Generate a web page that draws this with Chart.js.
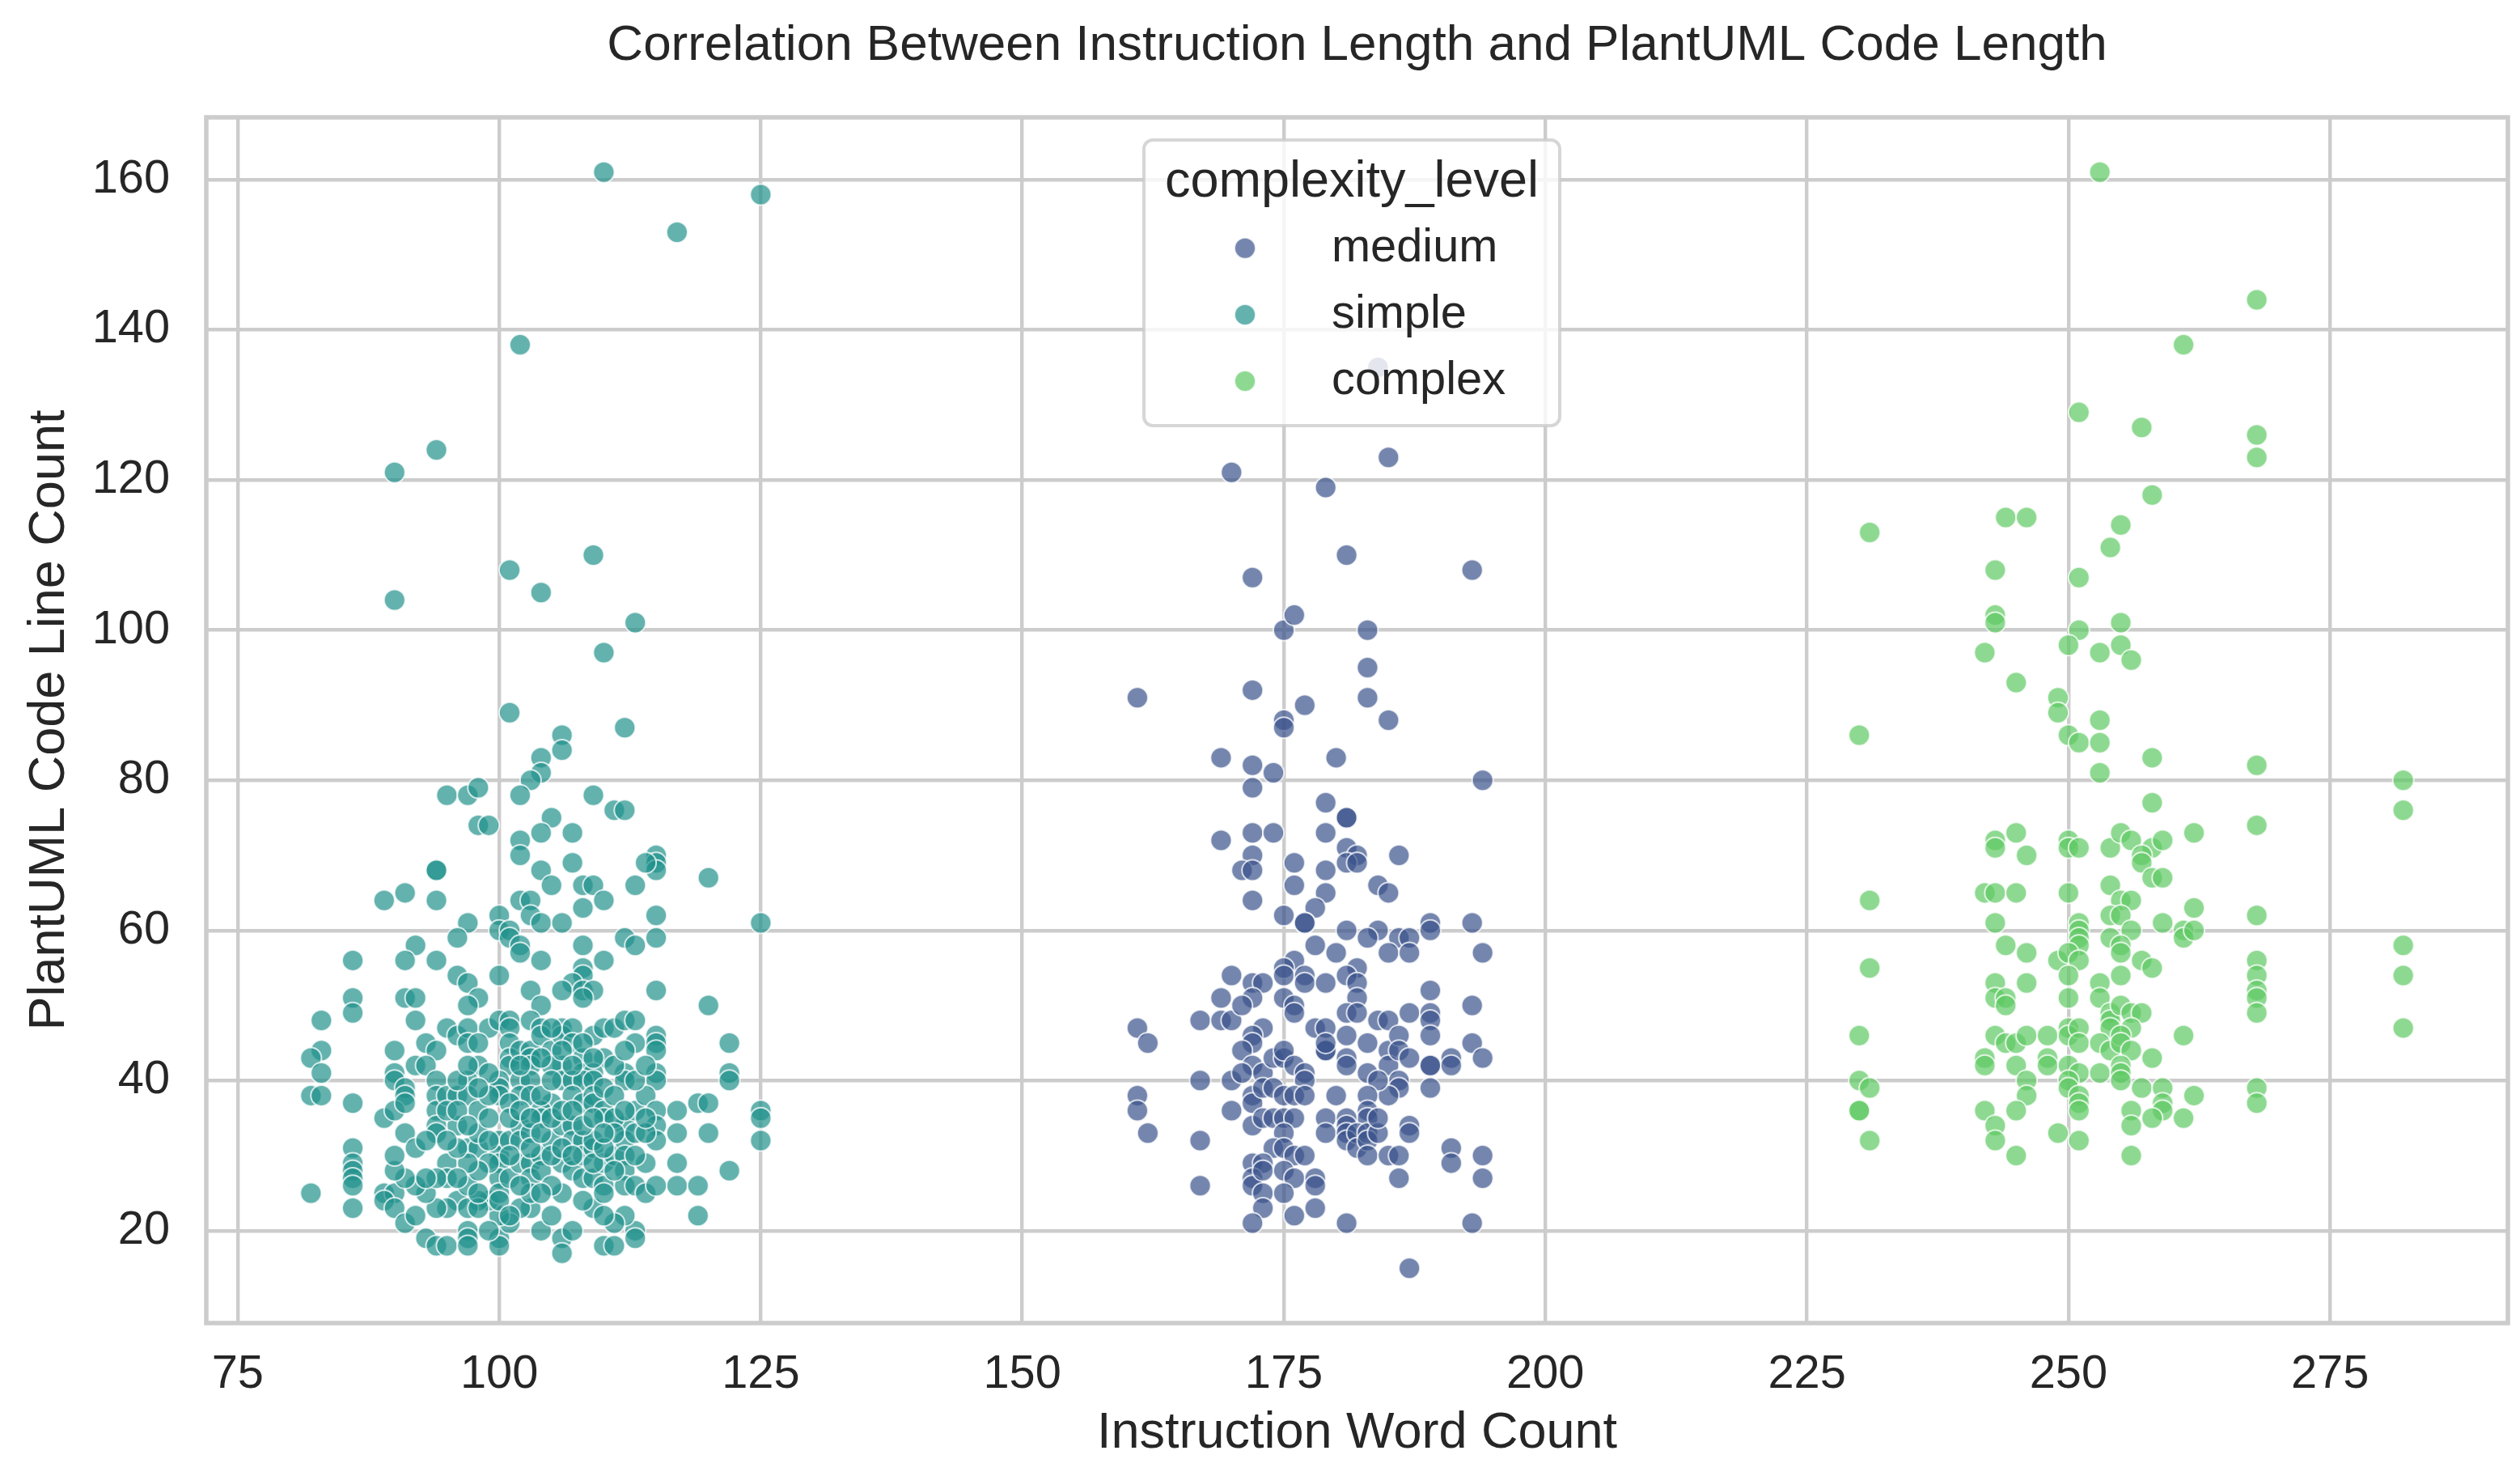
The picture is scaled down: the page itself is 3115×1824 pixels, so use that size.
<!DOCTYPE html>
<html>
<head>
<meta charset="utf-8">
<script src="https://cdn.jsdelivr.net/npm/chart.js@4.4.1/dist/chart.umd.min.js"></script>
<style>
html,body{margin:0;padding:0;background:#ffffff;}
canvas{display:block;}
</style>
</head>
<body>
<canvas id="c" width="3115" height="1824" style="width:3115px;height:1824px"></canvas>
<script>
// ---------------- DATA ----------------
const categories = ['medium', 'simple', 'complex'];

const mediumWordCount = [
  170,172,172,175,176,179,181,183,183,183,185,184,193,161,
  175,175,177,185,169,180,172,174,194,172,179,181,181,169,172,174,179,181,182,186,
  172,176,181,182,171,172,179,176,179,184,185,172,178,175,177,177,181,184,183,186,
  187,189,189,193,178,180,185,187,194,176,175,175,182,170,172,173,177,177,179,181,
  182,189,169,182,193,
  172,175,176,176,161,162,167,169,170,171,173,172,172,171,172,173,174,175,175,176,
  177,177,178,179,179,179,179,181,182,181,181,181,184,185,187,189,189,189,183,183,
  185,185,186,186,187,186,186,185,184,189,189,191,191,193,194,189,167,170,171,161,
  161,162,170,167,167,172,172,173,174,175,176,177,172,173,174,175,176,175,180,183,
  183,183,179,179,181,181,181,181,182,182,183,183,183,184,184,187,187,174,175,176,
  177,172,173,172,172,173,175,176,173,173,175,178,178,178,176,172,181,185,186,186,
  191,191,194,194,193,187
];
const mediumLineCount = [
  121,107,92,100,102,119,110,100,95,91,123,135,108,91,
  88,87,90,88,83,83,82,81,80,79,77,75,75,72,73,73,73,71,70,70,
  70,69,69,69,68,68,68,66,65,66,65,64,63,62,61,61,60,60,59,59,
  59,61,60,61,58,57,57,57,57,56,55,54,55,54,53,53,54,53,53,54,
  53,52,51,51,50,
  51,51,50,49,47,45,48,48,48,50,47,46,45,44,42,41,43,43,44,42,
  41,40,47,47,44,44,45,49,49,46,43,42,48,48,49,49,48,46,45,41,
  44,42,46,44,43,40,39,38,40,42,42,43,42,45,43,39,40,40,41,38,
  36,33,36,32,26,38,37,39,39,38,38,38,34,35,35,35,35,33,38,38,
  36,35,35,33,35,34,33,32,33,31,33,32,30,33,35,34,33,31,31,30,
  30,29,29,27,26,28,28,27,25,23,25,27,26,23,22,21,21,30,30,27,
  31,29,30,27,21,15
];

const simpleWordCount = [
  110,125,117,102,94,90,101,109,104,90,113,110,
  101,112,106,106,104,104,103,95,97,98,102,109,111,112,105,98,99,104,107,102,
  102,115,115,115,114,94,94,104,107,120,91,105,108,109,113,
  89,94,97,96,100,100,101,102,103,103,104,106,108,110,115,115,112,113,125,108,
  92,91,94,86,101,102,102,104,110,100,96,97,98,97,108,108,107,106,108,109,
  108,103,104,115,120,86,86,91,92,92,83,83,82,83,90,95,96,97,97,98,
  99,100,101,101,101,101,101,102,103,103,103,103,104,104,105,106,106,107,107,109,
  110,111,112,113,113,115,115,115,122,93,94,92,93,108,110,106,105,112,115,122,
  90,108,109,
  90,94,97,100,102,103,106,107,108,109,112,115,122,82,83,86,91,91,89,90,
  91,94,94,94,94,95,96,97,98,100,100,102,103,105,104,104,107,108,109,109,
  110,110,112,113,114,115,115,115,117,117,117,117,119,120,120,119,119,122,125,125,
  125,86,86,86,86,86,86,82,89,90,89,90,91,92,93,94,95,97,97,97,
  100,100,104,106,106,107,110,111,113,113,112,111,109,110,106,105,103,102,101,100,
  99,98,96,97,98,95,94,93,92,91,90,90,91,92,93,95,95,94,93,97,
  98,97,98,96,98,100,100,100,100,100,100,101,101,101,102,102,102,103,103,103,
  103,104,104,105,105,106,106,107,107,107,108,108,108,109,109,109,110,110,110,111,
  112,112,112,112,113,114,114,115,111,111,
  96,97,98,99,99,99,99,99,98,97,96,96,95,95,96,97,98,101,101,101,
  102,102,103,103,104,104,104,105,105,105,105,106,106,106,107,107,107,108,108,109,
  109,109,110,110,110,111,111,111,112,112,113,113,113,114,114,114,102,104,108,99
];
const simpleLineCount = [
  161,158,153,138,124,121,108,110,105,104,101,97,
  89,87,86,84,83,81,80,78,78,79,78,78,76,76,75,74,74,73,73,72,
  70,70,69,68,69,68,68,68,69,67,65,66,66,66,66,
  64,64,61,59,62,60,60,64,64,62,61,61,63,64,62,59,59,58,61,58,
  58,56,56,56,59,58,57,56,56,54,54,53,51,50,55,54,53,52,52,52,
  51,52,50,52,50,51,49,51,51,48,48,44,43,41,44,47,46,47,45,42,
  47,48,48,47,45,43,42,44,44,43,42,48,47,46,44,47,46,47,45,46,
  47,47,48,48,45,46,45,44,45,45,44,42,42,43,43,42,42,41,41,41,
  41,41,41,
  40,40,40,40,40,40,40,40,40,40,40,40,40,38,38,37,39,38,35,36,
  37,38,36,34,33,38,38,38,36,39,38,38,38,37,36,35,38,37,38,37,
  36,35,34,36,38,36,34,32,36,33,29,26,37,37,33,26,22,28,36,35,
  32,31,29,28,27,26,23,25,25,25,24,23,21,22,19,18,18,20,19,18,
  19,18,20,19,17,20,18,18,20,19,22,21,23,22,25,22,23,23,21,22,
  24,24,24,23,23,23,23,25,26,27,28,30,33,31,32,29,27,27,27,31,
  31,26,25,34,33,32,30,29,27,25,24,32,27,22,34,32,29,33,29,27,
  25,30,28,32,26,34,29,34,32,28,32,30,27,31,27,32,29,26,25,30,
  32,30,28,26,26,29,25,26,35,33,
  40,42,45,41,38,35,32,29,28,29,31,27,32,36,36,34,39,37,35,30,
  36,42,35,31,33,38,43,30,35,40,47,31,36,44,30,36,42,34,45,29,
  35,43,31,33,39,28,38,42,36,44,30,33,40,33,35,42,26,25,24,20
];

const complexWordCount = [
  253,268,261,251,257,268,268,258,231,244,246,255,254,243,251,243,243,251,255,250,
  242,253,255,256,245,249,249,253,230,250,251,253,258,268,253,258,268,243,243,245,
  246,250,250,251,254,255,256,258,259,262,257,
  282,282,282,282,282,
  257,258,259,231,242,243,245,250,254,255,256,254,255,262,268,243,251,251,251,251,
  256,259,261,261,262,254,255,255,244,246,249,250,251,257,258,231,250,255,268,268,
  268,268,268,243,246,243,244,244,250,253,253,254,254,254,255,256,257,256,230,243,
  244,245,246,248,250,250,251,251,253,254,255,255,256,261,242,242,245,248,248,250,
  251,253,255,255,255,258,246,246,250,250,251,251,251,257,259,259,259,262,268,268,
  230,231,230,230,231,242,243,243,245,245,249,251,256,256,258,261,256
];
const complexLineCount = [
  161,144,138,129,127,126,123,118,113,115,115,114,111,108,107,102,101,100,101,98,
  97,97,98,96,93,91,89,88,86,86,85,85,83,82,81,77,74,72,71,73,
  70,72,71,71,71,73,72,71,72,73,70,
  80,76,58,54,47,
  69,67,67,64,65,65,65,65,66,64,64,62,62,63,62,61,61,60,59,58,
  60,61,60,59,60,59,58,57,58,57,56,57,56,56,55,55,54,54,56,54,
  52,51,49,53,53,51,51,50,51,53,51,49,48,47,50,49,49,47,46,46,
  45,45,46,46,47,46,47,45,45,44,46,45,44,46,43,42,42,43,42,42,
  41,41,42,41,40,43,40,38,40,39,38,37,36,39,39,37,36,38,39,37,
  40,39,36,36,32,36,34,32,36,30,33,32,36,34,35,35,30
];

const xTicks = [75, 100, 125, 150, 175, 200, 225, 250, 275];
const yTicks = [20, 40, 60, 80, 100, 120, 140, 160];

const chartTitle = 'Correlation Between Instruction Length and PlantUML Code Length';
const xAxisLabel = 'Instruction Word Count';
const yAxisLabel = 'PlantUML Code Line Count';
const legendTitle = 'complexity_level';

// ---------------- STYLE ----------------
const FONT = "'Liberation Sans', Arial, Helvetica, sans-serif";
const TEXT = '#262626';
const GRID = '#cccccc';
const MARKER_R = 13;
const seriesRGB = { medium: '59,82,139', simple: '33,145,140', complex: '94,201,98' };
const seriesData = {
  medium: [mediumWordCount, mediumLineCount],
  simple: [simpleWordCount, simpleLineCount],
  complex: [complexWordCount, complexLineCount]
};

Chart.defaults.font.family = FONT;
Chart.defaults.color = TEXT;

const datasets = categories.map(cat => {
  const [xs, ys] = seriesData[cat];
  return {
    label: cat,
    data: xs.map((x, i) => ({ x: x, y: ys[i] })),
    backgroundColor: 'rgba(' + seriesRGB[cat] + ',0.7)',
    borderColor: 'rgba(255,255,255,0.75)',
    borderWidth: 2,
    pointRadius: MARKER_R,
    pointHoverRadius: MARKER_R
  };
});

const framePlugin = {
  id: 'frame',
  beforeDatasetsDraw(chart) {
    const { ctx, chartArea: ca } = chart;
    ctx.save();
    ctx.strokeStyle = GRID;
    ctx.lineWidth = 5.5;
    ctx.strokeRect(ca.left, ca.top, ca.right - ca.left, ca.bottom - ca.top);
    ctx.restore();
  }
};

const legendPlugin = {
  id: 'seabornLegend',
  afterDatasetsDraw(chart) {
    const { ctx, chartArea: ca } = chart;
    const left = ca.left + 1159, top = ca.top + 28, w = 514, h = 353;
    ctx.save();
    ctx.beginPath();
    ctx.roundRect(left, top, w, h, 11);
    ctx.fillStyle = 'rgba(255,255,255,0.8)';
    ctx.fill();
    ctx.lineWidth = 4;
    ctx.strokeStyle = 'rgba(204,204,204,0.8)';
    ctx.stroke();
    ctx.fillStyle = TEXT;
    ctx.font = '63px ' + FONT;
    ctx.textAlign = 'center';
    ctx.textBaseline = 'alphabetic';
    ctx.fillText(legendTitle, left + w / 2, top + 70);
    chart.data.datasets.forEach((ds, i) => {
      const yc = top + 133.7 + i * 82.2;
      ctx.beginPath();
      ctx.arc(left + 125, yc, MARKER_R, 0, Math.PI * 2);
      ctx.fillStyle = ds.backgroundColor;
      ctx.fill();
      ctx.lineWidth = 2;
      ctx.strokeStyle = ds.borderColor;
      ctx.stroke();
      ctx.fillStyle = TEXT;
      ctx.font = '57.75px ' + FONT;
      ctx.textAlign = 'left';
      ctx.textBaseline = 'middle';
      ctx.fillText(ds.label, left + 232, yc);
    });
    ctx.restore();
  }
};

new Chart(document.getElementById('c'), {
  type: 'scatter',
  data: { datasets: datasets },
  plugins: [framePlugin, legendPlugin],
  options: {
    responsive: false,
    animation: false,
    events: [],
    layout: { padding: { left: 0, right: 11, top: 0, bottom: 0 } },
    plugins: {
      legend: { display: false },
      tooltip: { enabled: false },
      title: {
        display: true,
        text: chartTitle,
        fullSize: false,
        color: TEXT,
        font: { size: 62, weight: 'normal', family: FONT },
        padding: { top: 19.5, bottom: 51.1 }
      }
    },
    scales: {
      x: {
        type: 'linear',
        min: 72,
        max: 292,
        afterBuildTicks: s => { s.ticks = xTicks.map(v => ({ value: v })); },
        afterFit: s => { s.height = 189; },
        grid: { color: GRID, lineWidth: 4.4, drawTicks: false },
        border: { display: false },
        ticks: { color: TEXT, font: { size: 57.75 }, padding: 29.5, maxRotation: 0, autoSkip: false },
        title: { display: true, text: xAxisLabel, color: TEXT, font: { size: 63 }, padding: { top: 0, bottom: 14.5 } }
      },
      y: {
        type: 'linear',
        min: 7.7,
        max: 168.3,
        afterBuildTicks: s => { s.ticks = yTicks.map(v => ({ value: v })); },
        afterFit: s => { s.width = 255; },
        grid: { color: GRID, lineWidth: 4.4, drawTicks: false },
        border: { display: false },
        ticks: { color: TEXT, font: { size: 57.75 }, padding: 45, autoSkip: false },
        title: { display: true, text: yAxisLabel, color: TEXT, font: { size: 63 }, padding: { top: 23.7, bottom: 0 } }
      }
    }
  }
});
</script>
</body>
</html>
